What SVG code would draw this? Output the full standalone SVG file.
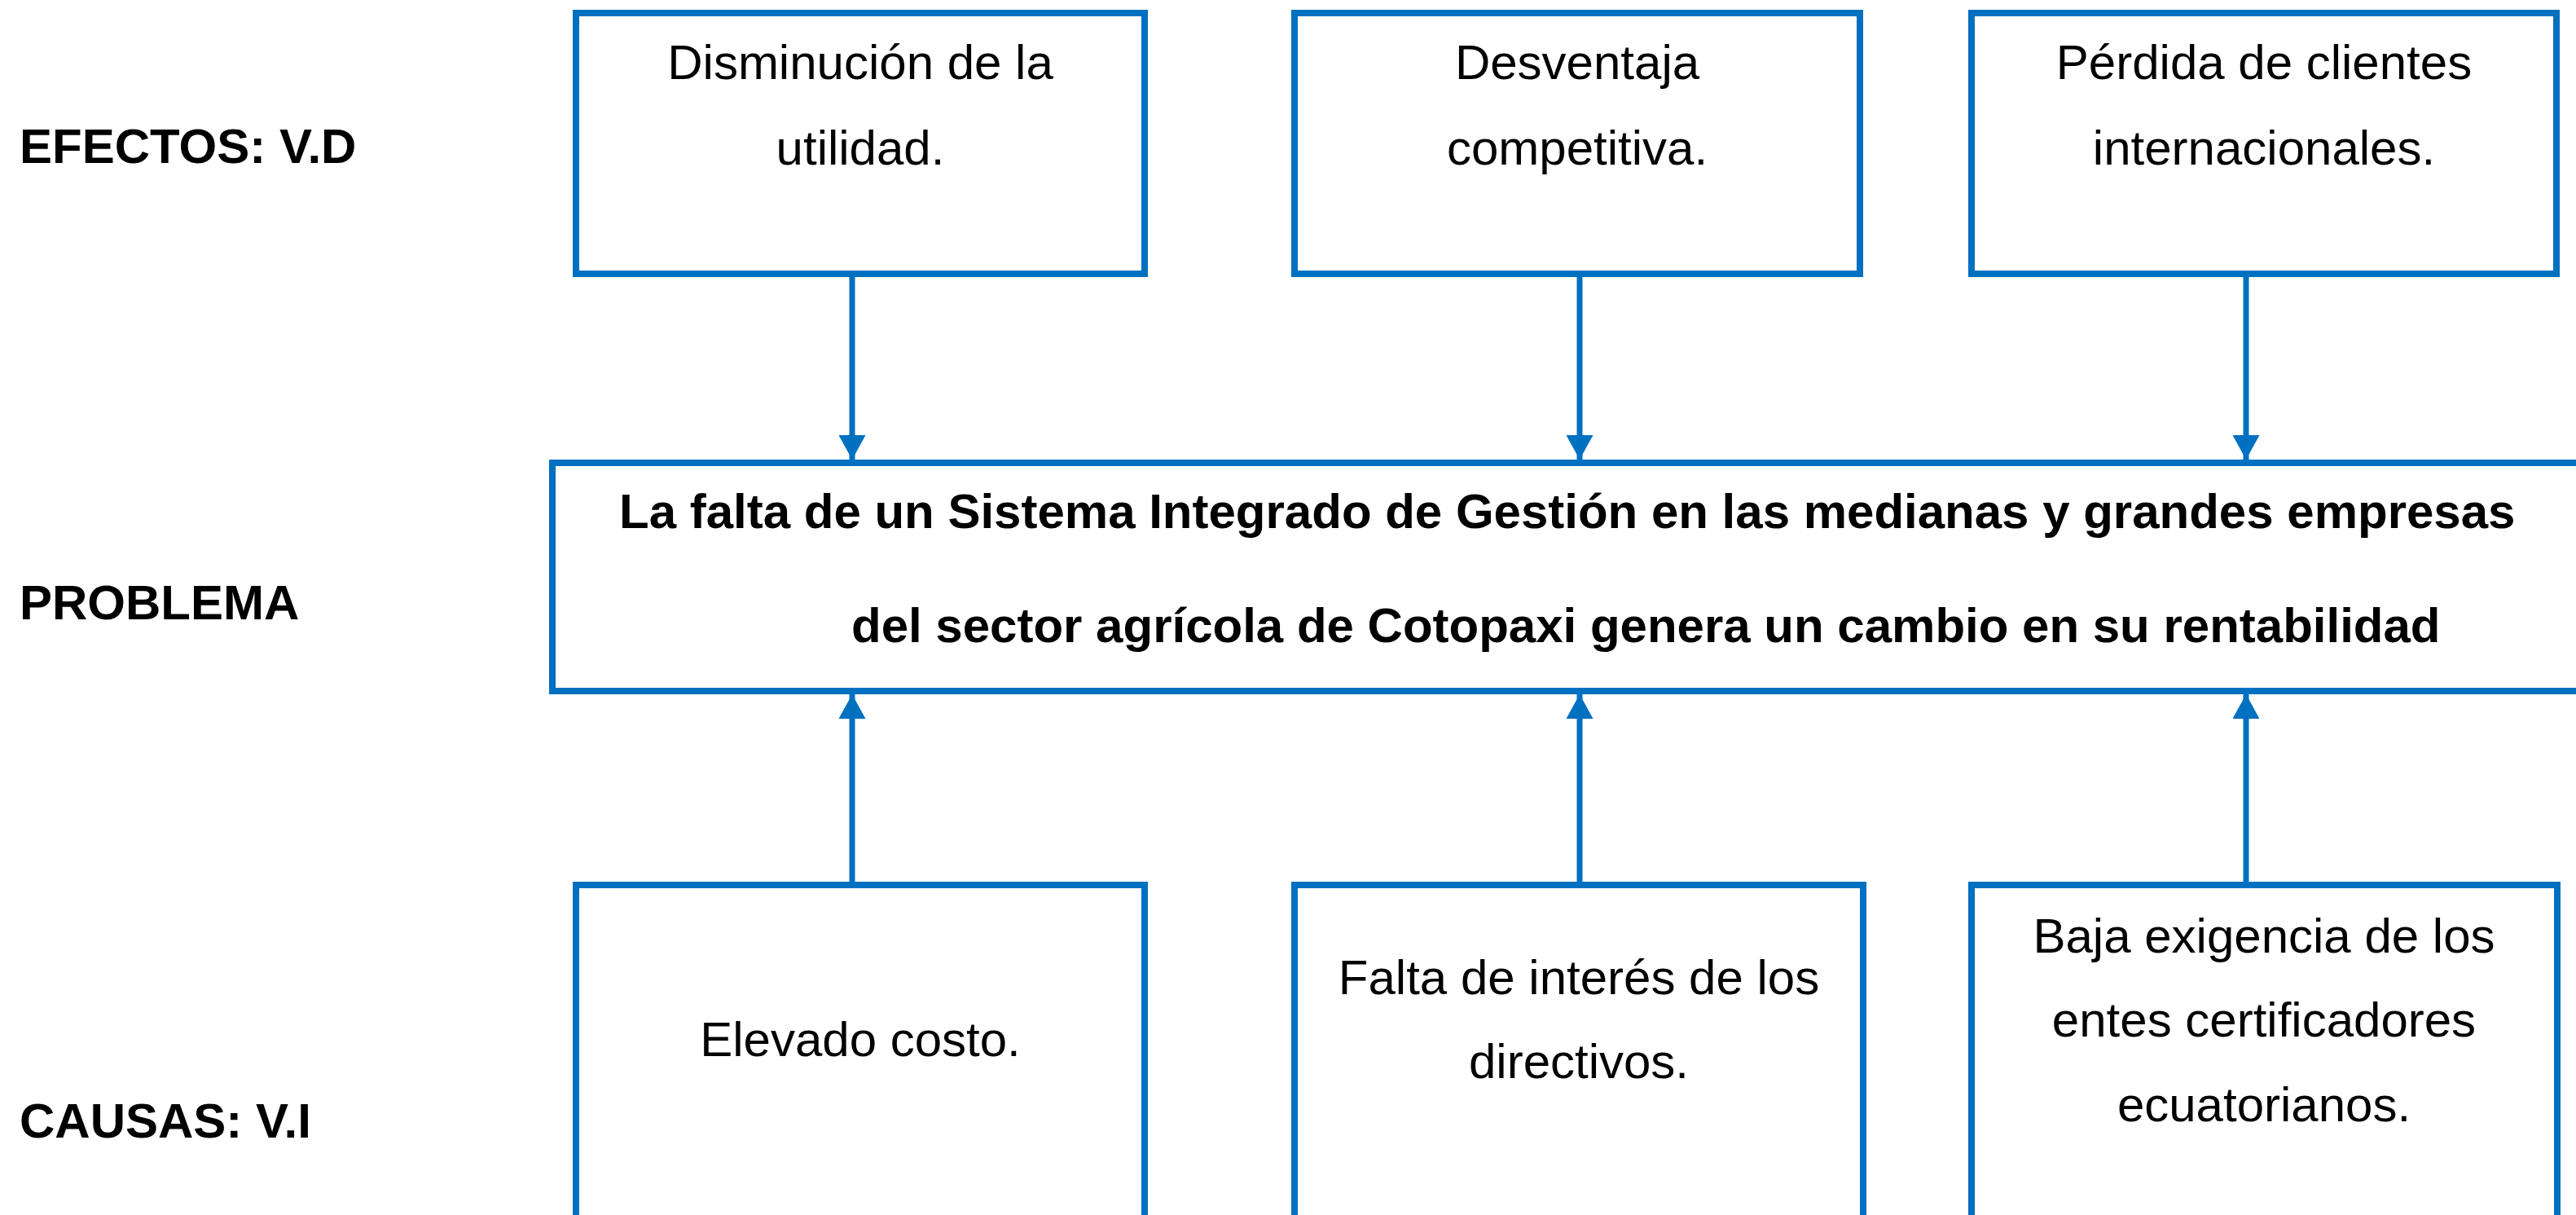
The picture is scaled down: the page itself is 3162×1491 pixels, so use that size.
<svg xmlns="http://www.w3.org/2000/svg" width="3162" height="1491" viewBox="0 0 3162 1491">
<style>
text{font-family:"Liberation Sans",Arial,sans-serif;font-size:60px;fill:#000}
.b{font-weight:bold}
.c{text-anchor:middle}
.box{fill:#fff;stroke:#0070C0;stroke-width:8}
.con{stroke:#0070C0;stroke-width:7;fill:none}
</style>
<defs>
<marker id="ah" viewBox="0 0 30 33" refX="30" refY="16.5" markerWidth="30" markerHeight="33" markerUnits="userSpaceOnUse" orient="auto">
<path d="M0,0 L30,16.5 L0,33 Z" fill="#0070C0"/>
</marker>
</defs>
<rect width="3162" height="1491" fill="#fff"/>
<g id="labels">
<text class="b" x="24" y="200">EFECTOS: V.D</text>
<text class="b" x="24" y="760">PROBLEMA</text>
<text class="b" x="24" y="1396">CAUSAS: V.I</text>
</g>
<g id="connectors">
<line class="con" x1="1046" y1="340" x2="1046" y2="564" marker-end="url(#ah)"/>
<line class="con" x1="1939" y1="340" x2="1939" y2="564" marker-end="url(#ah)"/>
<line class="con" x1="2757" y1="340" x2="2757" y2="564" marker-end="url(#ah)"/>
<line class="con" x1="1046" y1="1082" x2="1046" y2="852" marker-end="url(#ah)"/>
<line class="con" x1="1939" y1="1082" x2="1939" y2="852" marker-end="url(#ah)"/>
<line class="con" x1="2757" y1="1082" x2="2757" y2="852" marker-end="url(#ah)"/>
</g>
<g id="effect1">
<rect class="box" x="707" y="16" width="698" height="320"/>
<text class="c" x="1056" y="97">Disminución de la</text>
<text class="c" x="1056" y="202">utilidad.</text>
</g>
<g id="effect2">
<rect class="box" x="1589" y="16" width="694" height="320"/>
<text class="c" x="1936" y="97">Desventaja</text>
<text class="c" x="1936" y="202">competitiva.</text>
</g>
<g id="effect3">
<rect class="box" x="2420" y="16" width="718" height="320"/>
<text class="c" x="2779" y="97">Pérdida de clientes</text>
<text class="c" x="2779" y="202">internacionales.</text>
</g>
<g id="problem">
<rect class="box" x="678" y="568" width="2600" height="280"/>
<text class="b" x="760" y="648">La falta de un Sistema Integrado de Gestión en las medianas y grandes empresas</text>
<text class="b" x="1045" y="788">del sector agrícola de Cotopaxi genera un cambio en su rentabilidad</text>
</g>
<g id="cause1">
<rect class="box" x="707" y="1086" width="698" height="500"/>
<text class="c" x="1056" y="1296">Elevado costo.</text>
</g>
<g id="cause2">
<rect class="box" x="1589" y="1086" width="698" height="500"/>
<text class="c" x="1938" y="1220">Falta de interés de los</text>
<text class="c" x="1938" y="1323">directivos.</text>
</g>
<g id="cause3">
<rect class="box" x="2420" y="1086" width="719" height="500"/>
<text class="c" x="2779" y="1169">Baja exigencia de los</text>
<text class="c" x="2779" y="1272">entes certificadores</text>
<text class="c" x="2779" y="1376">ecuatorianos.</text>
</g>
</svg>
